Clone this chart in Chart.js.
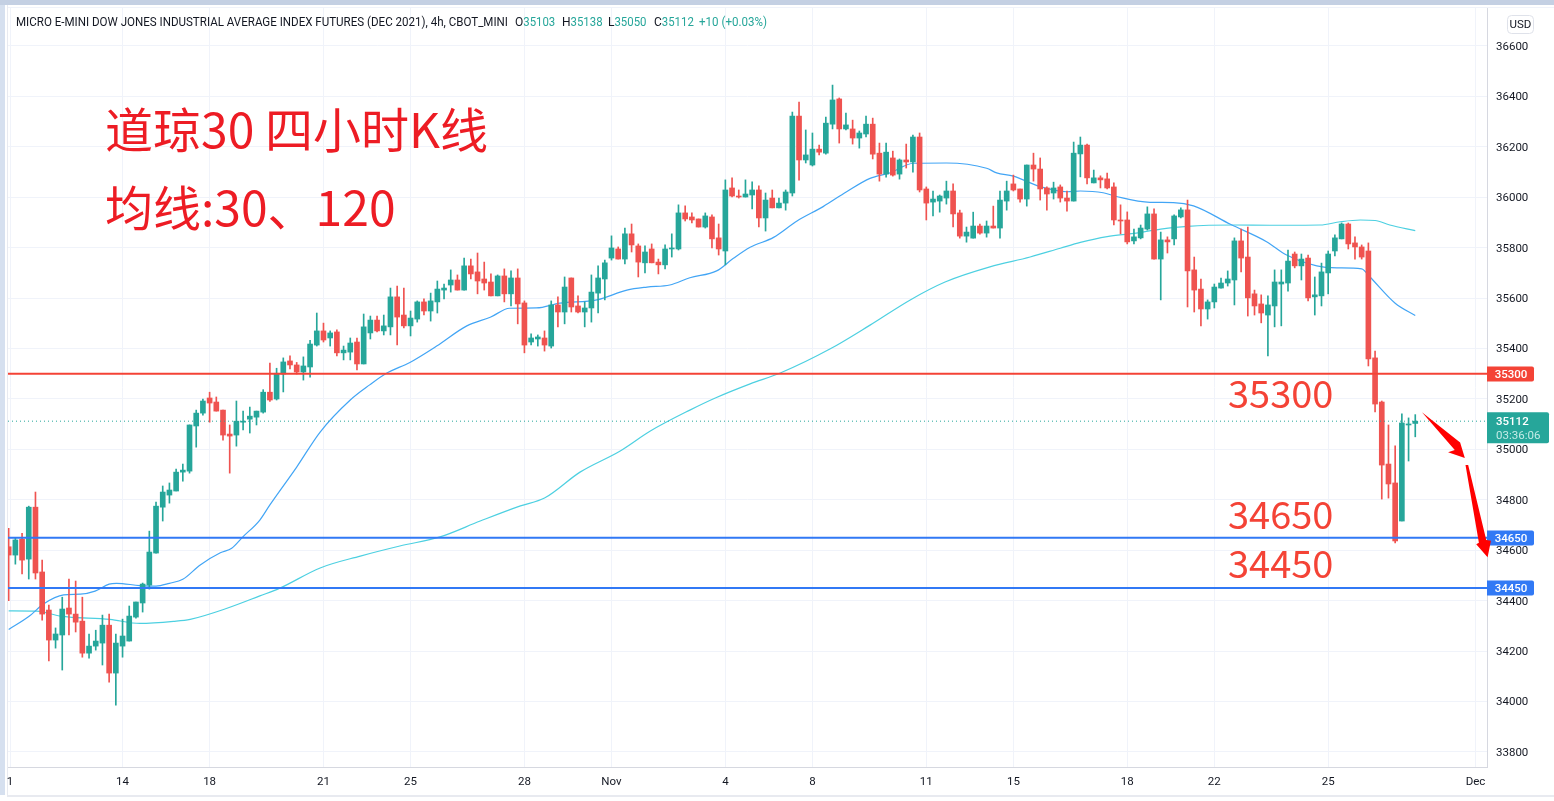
<!DOCTYPE html>
<html><head><meta charset="utf-8">
<style>html,body{margin:0;padding:0;background:#fff;overflow:hidden}canvas{display:block}</style>
<script src="https://cdn.jsdelivr.net/npm/chart.js@4"></script>
</head><body><canvas id="c" width="1554" height="801"></canvas>
<script>
const opens=[34614,34581,34644,34565,34771,34514,34363,34244,34264,34371,
34347,34319,34192,34220,34232,34303,34113,34220,34240,34335,
34391,34462,34589,34771,34819,34835,34910,34914,35093,35144,
35204,35188,35156,35061,35057,35108,35120,35128,35148,35227,
35200,35299,35351,35335,35307,35327,35414,35470,35442,35466,
35383,35386,35426,35339,35462,35513,35470,35486,35605,35533,
35490,35517,35585,35549,35585,35632,35652,35672,35632,35728,
35704,35676,35664,35609,35688,35617,35680,35581,35426,35438,
35442,35410,35573,35545,35680,35569,35545,35561,35620,35676,
35759,35795,35755,35855,35807,35740,35795,35743,35732,35795,
35795,35938,35922,35914,35882,35922,35839,35787,36037,36005,
36001,36009,36029,35918,35997,35958,35977,36017,36322,36148,
36128,36191,36175,36290,36390,36271,36271,36235,36251,36290,
36175,36092,36156,36092,36148,36140,36239,36033,35981,35985,
35997,36025,35938,35846,35838,35886,35858,35886,35878,35985,
36053,36033,35993,36128,36112,36037,36017,36041,35997,35985,
36172,36207,36057,36077,36073,36041,35910,35910,35827,35839,
35874,35934,35755,35831,35835,35922,35950,35712,35636,35557,
35585,35640,35660,35672,35827,35763,35617,35577,35533,35569,
35656,35660,35775,35728,35759,35605,35609,35700,35787,35835,
35894,35819,35803,35787,35363,35188,34942,34867,34716,35097,35103];
const closes=[34581,34641,34561,34771,34510,34347,34244,34268,34367,34347,
34315,34192,34220,34240,34303,34113,34232,34260,34339,34395,
34466,34593,34775,34831,34839,34910,34918,35097,35144,35192,
35184,35152,35057,35053,35112,35112,35132,35152,35227,35196,
35302,35347,35335,35307,35331,35418,35470,35434,35462,35383,
35394,35422,35339,35486,35513,35470,35490,35605,35525,35490,
35521,35585,35549,35589,35636,35640,35672,35632,35728,35696,
35668,35660,35609,35688,35617,35680,35577,35414,35442,35446,
35414,35573,35545,35644,35565,35545,35561,35624,35680,35740,
35799,35755,35855,35811,35743,35783,35740,35732,35795,35799,
35938,35914,35910,35882,35926,35835,35795,36029,36005,36001,
36013,36029,35918,35989,35958,35977,36021,36322,36148,36168,
36191,36179,36294,36386,36271,36287,36235,36255,36290,36171,
36092,36179,36088,36148,36140,36239,36029,35977,35993,36005,
36025,35934,35846,35862,35886,35858,35886,35878,35989,36025,
36029,35993,36128,36112,36033,36013,36037,35997,35985,36175,
36207,36077,36077,36069,36037,35910,35906,35823,35843,35878,
35934,35755,35831,35823,35926,35950,35708,35632,35557,35585,
35644,35660,35676,35827,35759,35601,35569,35541,35573,35664,
35664,35747,35728,35755,35601,35613,35704,35775,35839,35894,
35815,35803,35763,35359,35180,34938,34863,34637,35105,35101,35112];
const highs=[34687,34651,34667,34775,34831,34561,34383,34292,34414,34486,
34478,34414,34268,34283,34343,34347,34268,34327,34379,34395,
34470,34676,34791,34855,34867,34922,34942,35097,35156,35200,
35227,35208,35156,35097,35192,35152,35168,35152,35237,35342,
35322,35363,35371,35345,35367,35433,35541,35501,35470,35474,
35410,35442,35442,35537,35529,35529,35533,35640,35648,35640,
35549,35589,35597,35620,35668,35656,35712,35692,35759,35755,
35779,35743,35696,35692,35716,35708,35716,35589,35458,35454,
35470,35589,35605,35684,35680,35609,35585,35692,35728,35751,
35847,35803,35878,35894,35815,35807,35815,35755,35811,35855,
35970,35966,35938,35914,35938,35930,35894,36069,36077,36029,
36069,36061,36045,36017,36029,35997,36029,36338,36378,36267,
36255,36207,36318,36445,36394,36334,36306,36263,36322,36314,
36215,36215,36183,36152,36211,36247,36255,36041,36025,36009,
36064,36053,35949,35882,35941,35894,35906,35965,36025,36064,
36088,36033,36128,36175,36156,36041,36060,36049,36025,36219,
36239,36211,36108,36085,36096,36057,35970,35942,35874,35890,
35962,35954,35862,35843,35930,35958,35989,35763,35676,35593,
35656,35680,35708,35839,35874,35882,35632,35613,35609,35712,
35712,35791,35783,35775,35771,35684,35739,35787,35851,35898,
35898,35843,35811,35819,35390,35192,35097,35014,35141,35125,35138];
const lows=[34400,34545,34506,34486,34486,34323,34161,34212,34125,34264,
34276,34176,34172,34204,34145,34077,33986,34176,34240,34331,
34355,34446,34589,34716,34787,34835,34874,34906,35009,35136,
35108,35152,35037,34906,35013,35077,35065,35097,35144,35190,
35196,35228,35319,35299,35275,35287,35410,35426,35410,35371,
35355,35355,35315,35339,35438,35466,35454,35454,35414,35482,
35450,35505,35533,35509,35541,35597,35624,35632,35632,35676,
35617,35632,35609,35609,35585,35569,35498,35383,35414,35410,
35390,35402,35486,35498,35545,35541,35486,35505,35541,35593,
35751,35755,35736,35783,35684,35700,35740,35696,35716,35763,
35791,35906,35898,35882,35878,35799,35771,35732,36001,35997,
36001,35954,35882,35866,35958,35958,35949,36005,36068,36136,
36124,36168,36171,36271,36215,36267,36211,36195,36239,36152,
36064,36080,36084,36072,36116,36100,36021,35910,35926,35941,
35973,35882,35838,35822,35838,35854,35842,35878,35838,35949,
36025,35981,35965,36064,35989,35949,35993,35981,35945,35985,
36081,36053,36057,36037,36033,35890,35855,35815,35815,35835,
35870,35755,35593,35779,35811,35918,35565,35545,35490,35517,
35561,35640,35648,35573,35704,35529,35533,35502,35371,35486,
35490,35628,35720,35672,35589,35533,35569,35617,35767,35835,
35795,35755,35755,35331,35149,34803,34807,34629,34716,34954,35050];

const ma30Index=[0,3,5.2,8.2,10.7,12.9,15,16.1,19.6,22,24,26,28.6,31.6,33.3,35,37.5,39,43,46.5,51,53.9,56.4,59.9,63.9,68.4,71.9,74.8,78.8,82.3,87.8,92.3,95.3,98.7,101.7,105.7,108.2,110.7,114.2,117.7,121.6,125.1,128.6,131.6,135.1,140,146,147.5,150,154,158,160,163.4,165.4,170.4,173.9,176.9,182.4,187.8,190.8,195.3,198.3,202,203.2,207,210];
const ma30Price=[34286,34337,34387,34423,34426,34438,34466,34469,34460,34458,34469,34485,34542,34590,34608,34654,34720,34780,34930,35069,35196,35256,35302,35345,35410,35490,35524,35560,35561,35580,35593,35632,35644,35652,35681,35708,35758,35802,35841,35906,35963,36022,36075,36097,36135,36136,36115,36097,36084,36042,36022,36025,36018,36003,35980,35979,35966,35893,35824,35771,35728,35720,35716,35685,35580,35531];
const ma120Index=[0,4.2,7.7,15.1,19.6,24.6,27.1,32.6,37.5,40.5,46.5,52.5,58.4,64.4,70.4,76.4,80,85.3,91.3,95.8,101.7,105.5,110.7,115.2,122.6,128.6,134.6,139.8,146.5,152.5,157,160,164,168,172,176,183,188.3,195.8,198.8,201.8,204,206.2,210];
const ma120Price=[34360,34359,34339,34326,34310,34318,34326,34370,34419,34450,34530,34577,34617,34653,34716,34776,34807,34910,34994,35073,35156,35204,35260,35303,35398,35493,35593,35664,35724,35763,35798,35821,35844,35857,35874,35885,35890,35889,35890,35903,35910,35908,35890,35868];

const xTickIndex=[0.2,17,30,47,60,77,90,107,120,137,150,167,180,197,219];
const xTickLabels=["1","14","18","21","25","28","Nov","4","8","11","15","18","22","25","Dec"];
const yTicks=[36600,36400,36200,36000,35800,35600,35400,35200,35000,34800,34600,34400,34200,34000,33800];
const levels=[35300,34650,34450];
const levelColors=["#f44336","#3179f5","#3179f5"];
const lastPrice=35112;
const lastLabel="35112", countdown="03:36:06";
const arrow1Index=[211,216.7,217.4,214.9,215.9], arrow1Price=[35147,35027,34966,34989,34998];
const arrow2Index=[217.5,217.9,220.6,221.3,220.8,219.1,219.5], arrow2Price=[34938,34938,34641,34638,34572,34624,34630];
const xMin=-0.1,xMax=220.71,yMin=33740.5,yMax=36750.7;

const UP="#26a69a",DOWN="#ef5350";
const idx=opens.map((_,i)=>i);
const colors=idx.map(i=>closes[i]>=opens[i]?UP:DOWN);
const UI="Roboto, 'Open Sans', sans-serif";
const CJK="'Noto Sans CJK SC', sans-serif";

const overlay={id:"overlay",
 beforeDraw(c){const g=c.ctx;g.save();
  g.fillStyle="#fff";g.fillRect(0,0,1554,801);
  g.fillStyle="#c4d0e3";g.fillRect(0,0,1554,5);
  g.fillStyle="#d6e0ef";g.fillRect(0,5,5,790);
  g.fillStyle="#e8eaf0";g.fillRect(7,795,1547,2);g.fillRect(7,5,1,790);
  g.fillStyle="#f0f3fa";g.fillRect(8,7,1546,1);
  g.restore();},
 afterDraw(c){const g=c.ctx,x=c.scales.x,y=c.scales.y;g.save();
  g.textBaseline="middle";g.textAlign="left";
  g.font="12px "+UI;g.fillStyle="#131722";
  g.fillText("MICRO E-MINI DOW JONES INDUSTRIAL AVERAGE INDEX FUTURES (DEC 2021), 4h, CBOT_MINI",16,23,492);
  [["O","35103",515],["H","35138",562],["L","35050",608],["C","35112",654]].forEach(a=>{
    g.fillStyle="#131722";g.fillText(a[0],a[2],23);const w=g.measureText(a[0]).width;
    g.fillStyle=UP;g.fillText(a[1],a[2]+w,23,32);});
  g.fillStyle=UP;g.fillText("+10 (+0.03%)",699,23,68);
  g.strokeStyle="#dfe2ea";g.lineWidth=1;g.beginPath();g.roundRect(1507.5,15.5,26,18,4);g.stroke();
  g.fillStyle="#131722";g.textAlign="center";g.font="11.5px "+UI;g.fillText("USD",1520.5,25);
  g.textAlign="left";g.fillStyle="#ed1c24";g.font="48px "+CJK;
  g.fillText("道琼30 四小时K线",105,130);
  g.fillText("均线:30、120",105,208);
  g.fillStyle="#f44336";g.font="38px "+CJK;
  g.fillText("35300",1228,394);g.fillText("34650",1228,515);g.fillText("34450",1228,564);
  g.font="500 11.5px "+UI;g.textAlign="center";
  levels.forEach((v,i)=>{const p=Math.round(y.getPixelForValue(v));
    g.fillStyle=levelColors[i];g.beginPath();g.roundRect(1487,p-7.5,47,15,[0,2,2,0]);g.fill();
    g.fillStyle="#fff";g.fillText(String(v),1511,p+1);});
  const lp=y.getPixelForValue(lastPrice);
  g.fillStyle=UP;g.beginPath();g.roundRect(1487,lp-9,62,31,[0,2,2,0]);g.fill();
  g.fillStyle="#fff";g.textAlign="left";g.fillText(lastLabel,1496,lp+1);
  g.font="11.5px "+UI;g.fillStyle="#c4ebe6";g.fillText(countdown,1496,lp+14.5);
  g.fillStyle="#ff0000";
  [[arrow1Index,arrow1Price],[arrow2Index,arrow2Price]].forEach(a=>{g.beginPath();
    a[0].forEach((v,i)=>{const px=x.getPixelForValue(v),py=y.getPixelForValue(a[1][i]);i?g.lineTo(px,py):g.moveTo(px,py);});
    g.closePath();g.fill();});
  g.restore();}
};
const hline=(v,color,w,dash)=>({type:"line",data:[{x:xMin,y:v},{x:xMax,y:v}],borderColor:color,borderWidth:w,borderDash:dash||[],pointRadius:0,order:0,tension:0});

new Chart(document.getElementById("c"),{
 type:"bar",
 plugins:[overlay],
 data:{datasets:[
  ...levels.map((v,i)=>hline(v,levelColors[i],2)),
  hline(lastPrice,UP,1,[1,3]),
  {type:"bar",data:idx.map(i=>({x:i,y:[opens[i],closes[i]]})),backgroundColor:colors,barThickness:5,minBarLength:1,grouped:false,order:1},
  {type:"bar",data:idx.map(i=>({x:i,y:[lows[i],highs[i]]})),backgroundColor:colors,barThickness:1,grouped:false,order:2},
  {type:"line",data:ma30Index.map((v,i)=>({x:v,y:ma30Price[i]})),borderColor:"#42a5f5",borderWidth:1.2,pointRadius:0,cubicInterpolationMode:"monotone",order:3},
  {type:"line",data:ma120Index.map((v,i)=>({x:v,y:ma120Price[i]})),borderColor:"#4dd0e1",borderWidth:1.2,pointRadius:0,cubicInterpolationMode:"monotone",order:4}
 ]},
 options:{responsive:false,animation:false,devicePixelRatio:1,
  layout:{padding:{left:8,top:8,right:0,bottom:0}},
  plugins:{legend:{display:false},tooltip:{enabled:false},title:{display:false}},
  scales:{
   x:{type:"linear",offset:false,min:xMin,max:xMax,
    grid:{color:"#f0f3fa",drawTicks:false,offset:false},
    border:{color:"#d6d8e0",width:1},
    afterBuildTicks(s){s.ticks=xTickIndex.map(v=>({value:v}));},
    afterFit(s){s.height=34;s.paddingLeft=0;s.paddingRight=0;},
    ticks:{autoSkip:false,maxRotation:0,padding:8,color:"#131722",font:{family:UI,size:11.5},
     callback(v){const k=xTickIndex.indexOf(v);return k<0?"":xTickLabels[k];}}},
   y:{type:"linear",position:"right",min:yMin,max:yMax,
    grid:{color:"#f0f3fa",drawTicks:false},
    border:{color:"#d6d8e0",width:1},
    afterBuildTicks(s){s.ticks=yTicks.map(v=>({value:v}));},
    afterFit(s){s.width=67;s.paddingTop=0;s.paddingBottom=0;},
    ticks:{autoSkip:false,padding:9,labelOffset:1,color:"#131722",font:{family:UI,size:11.5},align:"center",crossAlign:"near",
     callback(v){return String(v);}}}
  }
 }
});
</script></body></html>
